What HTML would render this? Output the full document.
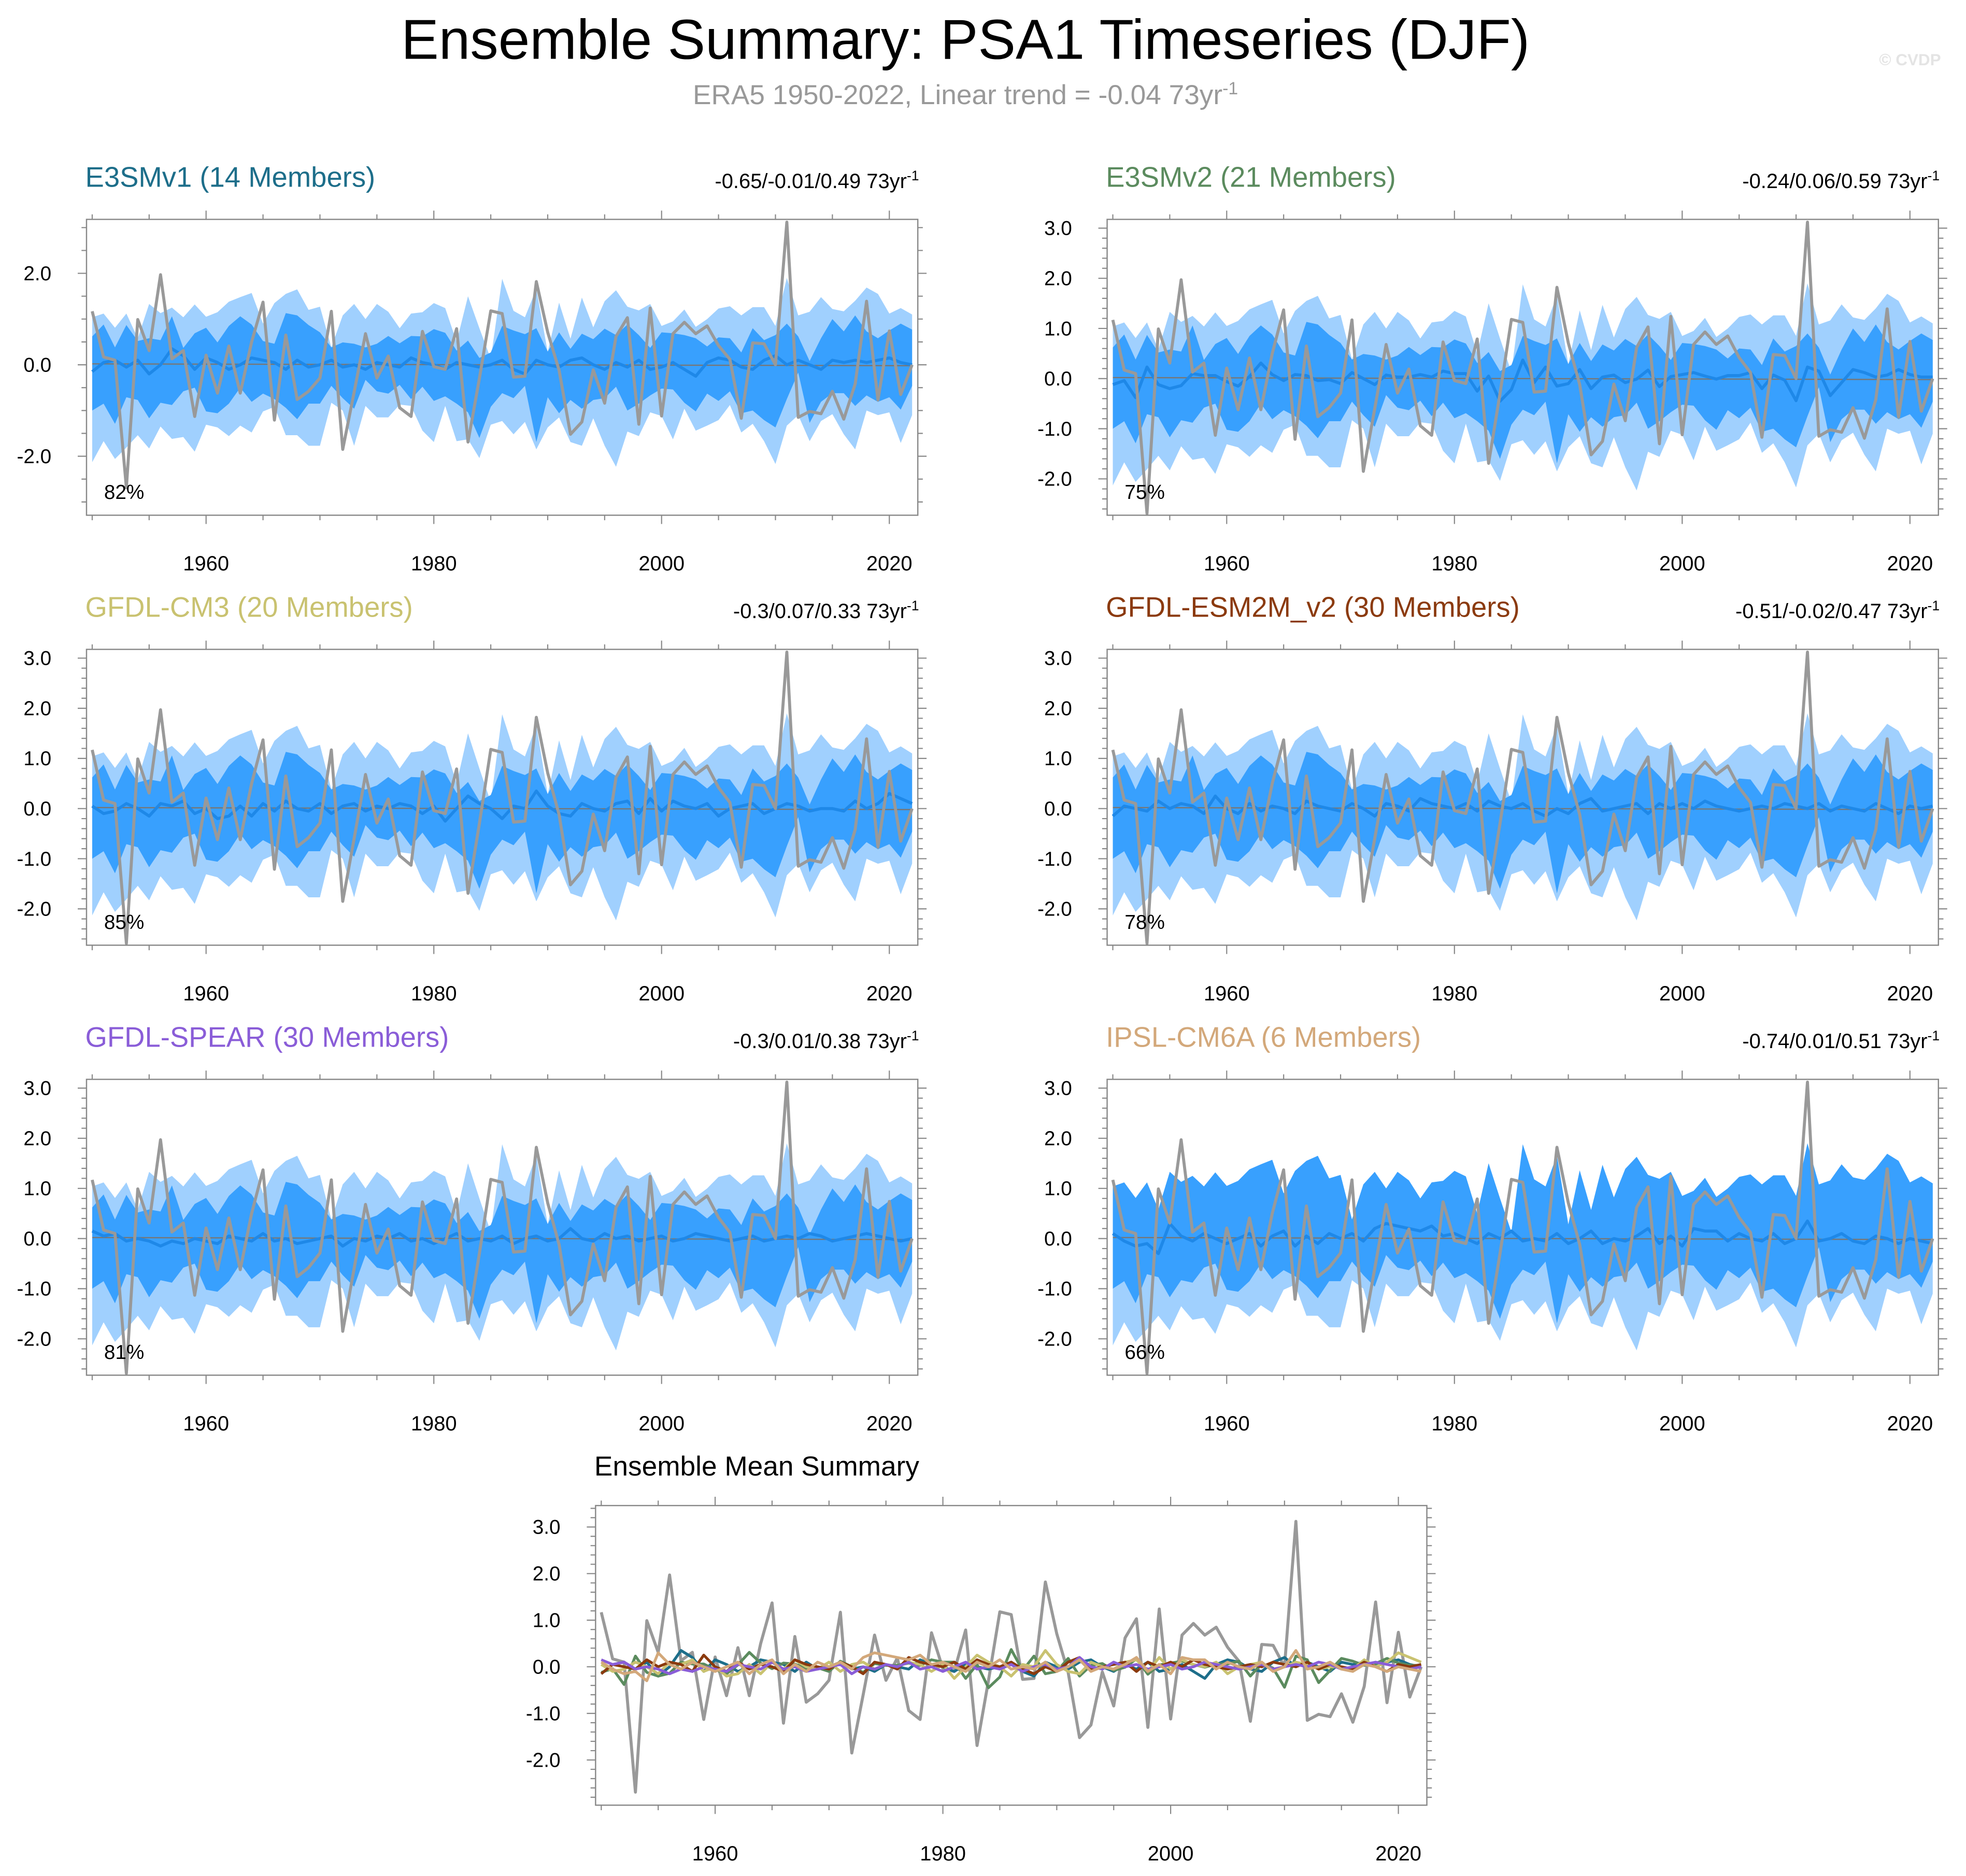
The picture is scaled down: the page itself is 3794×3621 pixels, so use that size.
<!DOCTYPE html>
<html><head><meta charset="utf-8"><title>Ensemble Summary: PSA1 Timeseries (DJF)</title>
<style>html,body{margin:0;padding:0;background:#fff}svg{display:block}text{font-family:"Liberation Sans",sans-serif}</style>
</head><body>
<svg id="chart" xmlns="http://www.w3.org/2000/svg" width="3794" height="3621" viewBox="0 0 1568 1496.5">
<rect x="0" y="0" width="1568" height="1496.5" fill="#fff"/>
<text x="770" y="47" font-size="45" text-anchor="middle" fill="#000">Ensemble Summary: PSA1 Timeseries (DJF)</text>
<text x="770" y="83" font-size="22" text-anchor="middle" fill="#999">ERA5 1950-2022, Linear trend = -0.04 73yr<tspan baseline-shift="super" font-size="14">-1</tspan></text>
<text x="1548" y="52" font-size="13" font-weight="bold" text-anchor="end" fill="#e4e4e4">© CVDP</text>
</svg>
<script>
const years = [];
for (let y = 1950; y <= 2022; y++) years.push(y);

const era5 = [1.17,0.17,0.10,-2.69,0.99,0.31,1.97,0.13,0.31,-1.13,
0.21,-0.62,0.41,-0.62,0.50,1.37,-1.21,0.65,-0.76,-0.58,
-0.29,1.17,-1.85,-0.60,0.68,-0.29,0.19,-0.94,-1.13,0.73,
-0.04,-0.10,0.79,-1.69,-0.30,1.18,1.12,-0.27,-0.25,1.82,
0.71,-0.12,-1.52,-1.25,-0.11,-0.84,0.62,1.03,-1.30,1.24,
-1.12,0.68,0.93,0.68,0.85,0.42,0.12,-1.17,0.48,0.46,
0.00,3.12,-1.15,-1.02,-1.07,-0.58,-1.19,-0.42,1.39,-0.77,
0.74,-0.65,0.00];
const era5Trend = [0.02,-0.02];

const bandLightHi = [1.04,1.12,0.81,1.12,0.58,1.33,1.13,1.25,1.04,1.32,
1.05,1.15,1.38,1.48,1.57,0.90,1.35,1.55,1.65,1.20,
1.27,0.38,1.08,1.33,1.00,1.33,1.16,0.80,1.12,1.15,
1.35,1.24,0.50,1.50,0.80,0.13,1.88,1.18,1.04,1.66,
0.28,1.36,0.57,1.47,0.82,1.39,1.63,1.27,1.19,1.33,
0.85,0.95,1.21,0.83,1.00,1.23,1.28,1.08,1.26,1.26,
0.85,1.90,1.08,1.16,1.48,1.22,1.17,1.40,1.69,1.55,
1.12,1.24,1.10];
const bandDarkHi = [0.62,0.88,0.38,0.87,0.52,0.58,0.54,1.06,0.37,0.69,
0.81,0.49,0.85,1.06,0.88,0.52,0.46,1.13,1.08,0.87,
0.71,0.38,0.49,0.46,0.38,0.46,0.63,0.47,0.63,0.62,
0.78,0.70,0.31,0.53,0.15,0.27,0.85,0.75,0.67,0.80,
0.29,0.71,0.35,0.68,0.56,0.79,0.65,0.88,0.65,0.37,
0.71,0.69,0.65,0.58,0.40,0.60,0.58,0.27,0.80,0.54,
0.65,0.90,0.62,0.08,0.58,1.00,0.73,1.08,0.73,0.58,
0.75,0.90,0.77];
const bandDarkLo = [-1.00,-0.85,-1.29,-0.71,-0.77,-1.17,-0.83,-0.88,-0.58,-0.50,
-1.02,-1.06,-0.85,-0.50,-0.81,-0.63,-0.75,-0.94,-1.19,-0.85,
-0.85,-0.46,-0.73,-0.96,-0.33,-0.58,-0.63,-0.44,-0.75,-0.48,
-0.79,-0.69,-0.85,-1.04,-1.60,-0.92,-0.62,-0.73,-0.46,-1.69,
-0.71,-1.06,-0.77,-0.96,-0.77,-0.73,-0.48,-1.00,-0.85,-0.67,
-0.52,-0.54,-0.83,-1.02,-0.63,-0.79,-0.58,-1.06,-1.00,-1.21,
-1.37,-0.75,-0.17,-1.27,-0.81,-0.62,-0.62,-0.90,-0.67,-0.81,
-0.71,-0.98,-0.46];
const bandLightLo = [-2.13,-1.67,-2.06,-1.81,-1.54,-1.83,-1.35,-1.62,-1.58,-1.90,
-1.31,-1.37,-1.56,-1.33,-1.48,-1.02,-0.92,-1.54,-1.54,-1.77,
-1.77,-0.83,-1.00,-1.77,-0.90,-1.15,-1.15,-0.87,-0.90,-1.44,
-1.69,-0.90,-1.67,-1.63,-2.04,-1.31,-1.23,-1.52,-1.25,-1.85,
-1.37,-1.15,-1.69,-1.77,-1.17,-1.77,-2.23,-1.46,-1.56,-1.04,
-1.12,-1.63,-0.96,-1.44,-1.33,-1.21,-0.88,-1.48,-1.29,-1.67,
-2.17,-1.33,-1.10,-1.67,-1.23,-1.08,-1.52,-1.85,-1.00,-1.10,
-1.04,-1.71,-1.10];

const meanE3SMv1 = [-0.15,0.05,0.10,-0.05,0.10,-0.20,0.00,0.35,0.20,-0.10,
0.15,0.05,-0.10,0.00,0.15,0.10,0.05,-0.10,0.10,-0.05,
0.00,0.10,-0.05,0.00,-0.10,0.05,0.00,-0.05,0.15,0.05,
0.00,-0.10,0.05,0.00,-0.05,0.00,0.10,-0.10,-0.20,0.10,
0.00,-0.05,0.10,0.15,0.00,-0.10,0.05,-0.05,0.10,-0.10,
-0.05,0.05,-0.10,-0.25,0.05,0.15,0.10,-0.05,-0.10,0.10,
0.20,0.00,0.10,0.00,-0.10,0.10,0.05,0.10,0.05,0.10,
0.15,0.05,0.00];
const meanE3SMv2 = [-0.12,-0.04,-0.38,0.23,-0.12,-0.20,-0.14,0.10,0.06,0.06,
-0.06,-0.15,0.04,0.31,0.08,-0.04,0.08,0.06,-0.04,-0.02,
-0.10,0.12,0.00,-0.12,0.07,0.03,0.03,0.08,0.03,0.15,
0.10,0.10,-0.25,0.05,-0.45,-0.22,0.37,-0.08,0.23,-0.15,
-0.10,0.18,-0.20,0.03,0.07,-0.08,-0.01,0.17,-0.16,0.04,
0.08,0.12,0.05,-0.01,0.06,0.06,0.12,-0.20,0.07,-0.03,
-0.44,0.23,0.15,-0.34,-0.08,0.18,0.12,0.03,0.07,0.18,
0.08,0.03,0.03];
const meanCM3 = [0.05,-0.10,-0.05,0.10,0.00,-0.15,0.10,0.05,0.15,-0.10,
0.00,-0.20,-0.15,0.05,-0.15,0.10,-0.05,0.15,0.00,-0.05,
0.10,-0.10,0.05,0.10,-0.05,0.05,0.00,0.10,0.05,-0.10,
0.05,-0.25,0.00,0.25,0.10,0.00,-0.20,0.05,0.00,0.35,
0.05,-0.10,-0.15,0.10,0.00,-0.05,0.10,0.15,-0.10,0.20,
-0.05,0.15,0.05,0.00,0.10,-0.15,0.00,0.05,0.10,-0.10,
0.00,0.10,0.05,-0.05,0.00,0.00,-0.05,0.15,0.00,0.10,
0.30,0.20,0.10];
const meanESM2M = [-0.15,0.05,0.00,-0.05,0.15,0.00,0.10,0.05,-0.10,0.25,
0.00,-0.10,0.10,-0.05,0.05,0.00,-0.10,0.15,0.05,0.00,
-0.05,0.10,0.00,-0.15,0.10,0.05,-0.05,0.20,0.10,0.05,
0.00,0.10,-0.05,0.15,0.05,0.00,0.10,-0.05,-0.15,0.00,
-0.10,0.10,0.20,-0.05,0.00,0.05,0.10,-0.10,0.10,0.00,
0.10,0.00,0.15,0.05,0.00,-0.05,0.00,0.05,0.00,0.10,
0.05,0.00,0.10,-0.05,0.05,0.00,-0.05,0.10,0.00,-0.10,
0.05,0.00,0.05];
const meanSPEAR = [0.15,0.05,0.10,-0.05,0.00,-0.05,-0.15,-0.05,-0.10,0.00,
-0.05,-0.10,0.05,0.00,-0.05,0.10,-0.05,0.00,-0.10,-0.05,
0.00,0.05,-0.15,0.00,-0.05,0.05,0.00,0.10,-0.05,0.00,
-0.10,0.00,0.10,-0.05,0.00,-0.05,0.05,-0.10,0.00,0.05,
-0.05,0.00,0.20,0.00,-0.05,0.10,0.00,0.05,-0.05,0.00,
0.05,-0.05,0.00,0.10,0.05,0.00,-0.05,0.00,0.05,-0.05,
0.00,0.05,0.00,0.10,0.05,-0.05,0.00,0.05,0.10,0.05,
0.00,-0.05,0.00];
const meanIPSL = [0.10,-0.05,-0.15,-0.10,-0.30,0.30,0.05,-0.05,0.10,0.00,
-0.10,0.00,0.10,-0.15,0.05,0.15,-0.15,0.05,-0.10,0.10,
0.00,0.10,-0.05,0.20,0.30,0.25,0.20,0.15,0.25,0.05,
0.10,0.00,-0.10,0.10,0.00,0.15,-0.05,0.00,-0.05,0.10,
-0.10,0.00,0.15,-0.10,0.00,-0.05,0.05,0.20,-0.10,0.05,
-0.15,0.20,0.15,0.15,-0.05,0.10,0.00,-0.05,0.10,-0.10,
0.00,0.35,-0.05,0.00,0.10,-0.05,-0.10,0.05,0.00,-0.10,
0.00,-0.05,-0.10];

const modelNames = ["E3SMv1 (14 Members)","E3SMv2 (21 Members)","GFDL-CM3 (20 Members)","GFDL-ESM2M_v2 (30 Members)","GFDL-SPEAR (30 Members)","IPSL-CM6A (6 Members)"];
const trendLabels = ["-0.65/-0.01/0.49 73yr","-0.24/0.06/0.59 73yr","-0.3/0.07/0.33 73yr","-0.51/-0.02/0.47 73yr","-0.3/0.01/0.38 73yr","-0.74/0.01/0.51 73yr"];
const pctLabels = ["82%","75%","85%","78%","81%","66%"];
const xTickYears = [1960,1980,2000,2020];

const colorsModel = ["#1d6e8a","#5b8b5e","#c9c270","#8b3a0e","#8a5dd8","#d3a87a"];
const means = [meanE3SMv1,meanE3SMv2,meanCM3,meanESM2M,meanSPEAR,meanIPSL];
const bands = [
 [bandLightHi,bandDarkHi,bandDarkLo,bandLightLo],
 [bandLightHi,bandDarkHi,bandDarkLo,bandLightLo],
 [bandLightHi,bandDarkHi,bandDarkLo,bandLightLo],
 [bandLightHi,bandDarkHi,bandDarkLo,bandLightLo],
 [bandLightHi,bandDarkHi,bandDarkLo,bandLightLo],
 [bandLightHi,bandLightHi,bandDarkLo,bandLightLo]
];

const svg = document.getElementById('chart');
const NS = 'http://www.w3.org/2000/svg';
function mk(tag, parent) { const e = document.createElementNS(NS, tag); parent.appendChild(e); return e; }

const layouts = [
 {x0:69,x1:732,y0:175,y1:411,ymin:-3.29,ymax:3.18,major:2,minor:0.5},
 {x0:883,x1:1546,y0:175,y1:411,ymin:-2.725,ymax:3.175,major:1,minor:0.2},
 {x0:69,x1:732,y0:518,y1:754,ymin:-2.725,ymax:3.175,major:1,minor:0.2},
 {x0:883,x1:1546,y0:518,y1:754,ymin:-2.725,ymax:3.175,major:1,minor:0.2},
 {x0:69,x1:732,y0:861,y1:1097,ymin:-2.725,ymax:3.175,major:1,minor:0.2},
 {x0:883,x1:1546,y0:861,y1:1097,ymin:-2.725,ymax:3.175,major:1,minor:0.2}
];
const XMIN = 1949.5, XMAX = 2022.5;

function axes(L, g) {
  const sx = v => L.x0 + (v - XMIN) / (XMAX - XMIN) * (L.x1 - L.x0);
  const sy = v => L.y1 - (v - L.ymin) / (L.ymax - L.ymin) * (L.y1 - L.y0);
  const ticks = mk('g', g);
  
  
  ticks.setAttribute('stroke', '#888'); ticks.setAttribute('stroke-width', '0.9');
  let d = '';
  for (let yr = 1950; yr <= 2022; yr += 5) {
    const len = (yr % 20 === 0) ? 7 : 4; const x = sx(yr);
    d += `M${x},${L.y1}v${len}M${x},${L.y0}v${-len}`;
  }
  const n0 = Math.ceil(L.ymin / L.minor - 1e-6), n1 = Math.floor(L.ymax / L.minor + 1e-6);
  for (let n = n0; n <= n1; n++) {
    const v = n * L.minor; const isMaj = Math.abs(v / L.major - Math.round(v / L.major)) < 1e-6;
    const len = isMaj ? 7 : 4; const y = sy(v);
    d += `M${L.x0},${y}h${-len}M${L.x1},${y}h${len}`;
  }
  const tp = mk('path', ticks); tp.setAttribute('d', d); tp.setAttribute('fill', 'none');
  const yl = mk('g', g);
  
  
  for (let v = Math.ceil(L.ymin / L.major) * L.major; v <= L.ymax + 1e-6; v += L.major) {
    const t = mk('text', yl);
    
    
    t.setAttribute('x', L.x0 - 28); t.setAttribute('y', sy(v) + 5.5);
    t.setAttribute('text-anchor', 'end'); t.setAttribute('font-size', '16');
    t.textContent = (Math.abs(v) < 1e-9 ? 0 : v).toFixed(1);
  }
  const xl = mk('g', g);
  
  
  xTickYears.forEach(yr => {
    const t = mk('text', xl);
    
    
    t.setAttribute('x', sx(yr)); t.setAttribute('y', L.y1 + 44);
    t.setAttribute('text-anchor', 'middle'); t.setAttribute('font-size', '16.5');
    t.textContent = yr;
  });
  return {sx, sy};
}
function linePath(arr, sx, sy) { return arr.map((v, i) => (i ? 'L' : 'M') + sx(years[i]).toFixed(2) + ',' + sy(v).toFixed(2)).join(''); }
function bandPath(hi, lo, sx, sy) {
  let d = hi.map((v, i) => (i ? 'L' : 'M') + sx(years[i]).toFixed(2) + ',' + sy(v).toFixed(2)).join('');
  for (let i = lo.length - 1; i >= 0; i--) d += 'L' + sx(years[i]).toFixed(2) + ',' + sy(lo[i]).toFixed(2);
  return d + 'Z';
}

layouts.forEach((L, k) => {
  const g = mk('g', svg);
  
  
  const {sx, sy} = axes(L, g);
  const [lh, dh, dl, ll] = bands[k];
  const pl = mk('path', g);
  
  
  pl.setAttribute('d', bandPath(lh, ll, sx, sy)); pl.setAttribute('fill', '#a0d0fe');
  const pd = mk('path', g);
  
  
  pd.setAttribute('d', bandPath(dh, dl, sx, sy)); pd.setAttribute('fill', '#38a0fe');
  const tr = mk('line', g);
  
  
  tr.setAttribute('x1', sx(1950)); tr.setAttribute('x2', sx(2022));
  tr.setAttribute('y1', sy(era5Trend[0])); tr.setAttribute('y2', sy(era5Trend[1]));
  tr.setAttribute('stroke', '#777'); tr.setAttribute('stroke-width', '1');
  const me = mk('path', g);
  
  
  me.setAttribute('d', linePath(means[k], sx, sy)); me.setAttribute('fill', 'none');
  me.setAttribute('stroke', '#1e88e8'); me.setAttribute('stroke-width', '2.4'); me.setAttribute('stroke-linejoin', 'round');
  const er = mk('path', g);
  
  
  er.setAttribute('d', linePath(era5, sx, sy)); er.setAttribute('fill', 'none');
  er.setAttribute('stroke', '#999'); er.setAttribute('stroke-width', '2.4'); er.setAttribute('stroke-linejoin', 'round');
  const box = mk('rect', g);
  
  
  box.setAttribute('x', L.x0); box.setAttribute('y', L.y0); box.setAttribute('width', L.x1 - L.x0); box.setAttribute('height', L.y1 - L.y0);
  box.setAttribute('fill', 'none'); box.setAttribute('stroke', '#888'); box.setAttribute('stroke-width', '1');
  const ti = mk('text', g);
  
  
  ti.setAttribute('x', L.x0 - 1); ti.setAttribute('y', L.y0 - 26); ti.setAttribute('font-size', '22.5');
  ti.setAttribute('fill', colorsModel[k]); ti.textContent = modelNames[k];
  const rt = mk('text', g);
  
  
  rt.setAttribute('x', L.x1 + 1); rt.setAttribute('y', L.y0 - 25); rt.setAttribute('font-size', '16.5');
  rt.setAttribute('text-anchor', 'end');
  rt.textContent = trendLabels[k];
  const sup = mk('tspan', rt); sup.setAttribute('baseline-shift', 'super'); sup.setAttribute('font-size', '11'); sup.textContent = '-1';
  const pc = mk('text', g);
  
  
  pc.setAttribute('x', L.x0 + 14); pc.setAttribute('y', L.y1 - 13); pc.setAttribute('font-size', '16');
  pc.textContent = pctLabels[k];
});

// Ensemble mean summary panel
const LB = {x0:475,x1:1138,y0:1201,y1:1440,ymin:-2.97,ymax:3.46,major:1,minor:0.2};
const gb = mk('g', svg);


const ab = axes(LB, gb);
const erb = mk('path', gb);


erb.setAttribute('d', linePath(era5, ab.sx, ab.sy)); erb.setAttribute('fill', 'none');
erb.setAttribute('stroke', '#999'); erb.setAttribute('stroke-width', '2.4'); erb.setAttribute('stroke-linejoin', 'round');
means.forEach((m, k) => {
  const p = mk('path', gb);
  
  
  p.setAttribute('d', linePath(m, ab.sx, ab.sy)); p.setAttribute('fill', 'none');
  p.setAttribute('stroke', colorsModel[k]); p.setAttribute('stroke-width', '2.2'); p.setAttribute('stroke-linejoin', 'round');
});
const bb = mk('rect', gb);


bb.setAttribute('x', LB.x0); bb.setAttribute('y', LB.y0); bb.setAttribute('width', LB.x1 - LB.x0); bb.setAttribute('height', LB.y1 - LB.y0);
bb.setAttribute('fill', 'none'); bb.setAttribute('stroke', '#888'); bb.setAttribute('stroke-width', '1');
const bt = mk('text', gb);


bt.setAttribute('x', 474); bt.setAttribute('y', 1177); bt.setAttribute('font-size', '22');
bt.textContent = 'Ensemble Mean Summary';
</script>
</body></html>
